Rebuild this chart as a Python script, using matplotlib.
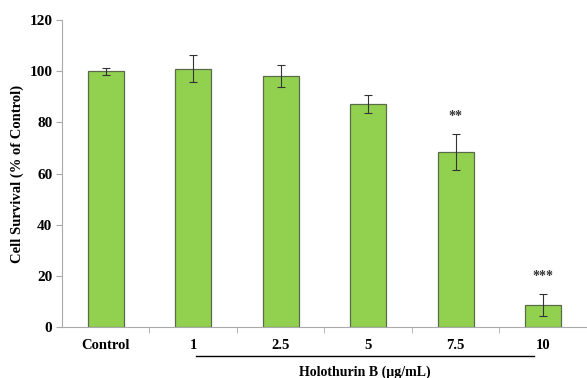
import matplotlib.pyplot as plt
import numpy as np

plt.rcParams['font.family'] = ['Liberation Serif', 'DejaVu Serif']
plt.rcParams['font.weight'] = 'bold'

labels = ['Control', '1', '2.5', '5', '7.5', '10']
survival = [100, 101, 98, 87.2, 68.4, 8.5]
errors = [1.4, 5.2, 4.3, 3.4, 7.0, 4.3]
stars = ['', '', '', '', '**', '***']

fig = plt.figure(figsize=(5.87, 3.78), dpi=100)
ax = fig.add_axes([0.1056, 0.135, 0.8944, 0.812])

x = np.arange(len(labels))
ax.bar(x, survival, width=0.41, color='#92D050', edgecolor='#5b6b4a', linewidth=0.9,
       yerr=errors, capsize=3,
       error_kw=dict(ecolor='#333333', elinewidth=0.8, capthick=0.8))

for i, s in enumerate(stars):
    if s:
        ax.text(x[i], survival[i] + errors[i] + 4.5, s, ha='center', va='bottom',
                fontsize=10, color='#333333')

ax.set_xlim(-0.5, len(labels) - 0.5)
ax.set_ylim(0, 120)
ax.set_yticks(range(0, 121, 20))
ax.set_xticks(x)
ax.set_xticklabels(labels, fontsize=10.5, fontweight='bold')
ax.tick_params(axis='x', length=0, pad=9)
ax.set_xticks(np.arange(0.5, len(labels) - 1, 1), minor=True)
ax.tick_params(axis='x', which='minor', length=4, color='#aaaaaa')
ax.tick_params(axis='y', labelsize=11, length=4, color='#aaaaaa', pad=3)
for t in ax.get_yticklabels():
    t.set_fontweight('bold')

for side in ['top', 'right']:
    ax.spines[side].set_visible(False)
for side in ['left', 'bottom']:
    ax.spines[side].set_color('#aaaaaa')

ax.set_ylabel('Cell Survival (% of Control)', fontsize=10.5, fontweight='bold', labelpad=4)

# bracket under the dose groups
fig.add_artist(plt.Line2D([196 / 587, 534 / 587], [1 - 356 / 378, 1 - 356 / 378],
                          color='black', linewidth=1))
fig.text(365 / 587, 1 - 372 / 378, 'Holothurin B (\u00b5g/mL)', ha='center', va='center',
         fontsize=10, fontweight='bold')

fig.savefig('out.png', dpi=100)
